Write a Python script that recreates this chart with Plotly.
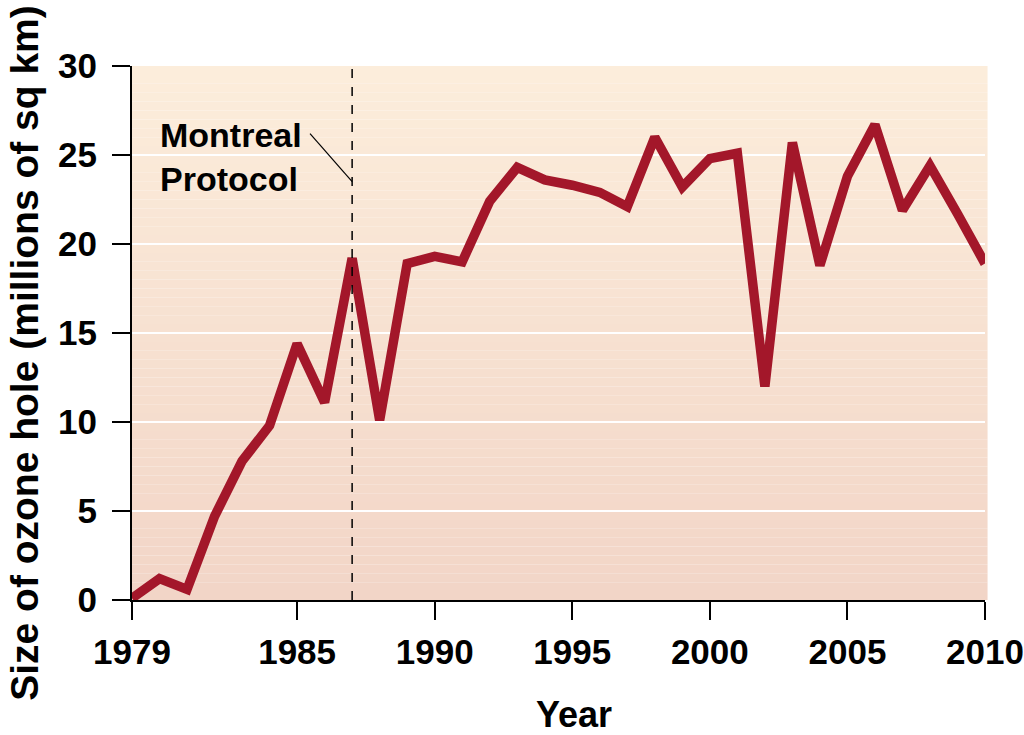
import plotly.graph_objects as go

years = list(range(1979, 2011))
ozone_hole = [0.1, 1.2, 0.6, 4.7, 7.8, 9.8, 14.4, 11.1, 19.2, 10.1,
              18.9, 19.3, 19.0, 22.4, 24.3, 23.6, 23.3, 22.9, 22.1, 26.0,
              23.2, 24.8, 25.1, 12.0, 25.7, 18.8, 23.8, 26.7, 21.9, 24.4,
              21.7, 18.9]
x_ticks = [1979, 1985, 1990, 1995, 2000, 2005, 2010]
y_ticks = [0, 5, 10, 15, 20, 25, 30]
protocol_year = 1987

FONT = "Liberation Sans, Arial, Helvetica, sans-serif"

fig = go.Figure()

# gradient background bands
shapes = []
n = 60
top = (252, 237, 219)
bot = (242, 213, 199)
for i in range(n):
    t = i / (n - 1)
    c = tuple(round(top[k] + (bot[k] - top[k]) * t) for k in range(3))
    shapes.append(dict(type="rect", xref="paper", yref="paper",
                       x0=0, x1=1.003, y0=1 - (i + 1) / n, y1=1 - i / n,
                       fillcolor="rgb(%d,%d,%d)" % c, line=dict(width=0),
                       layer="below"))
shapes.append(dict(type="line", xref="x", yref="y", x0=protocol_year, x1=protocol_year,
                   y0=0, y1=30, line=dict(color="black", width=1.5, dash="dash"),
                   layer="above"))
shapes.append(dict(type="line", xref="x", yref="y", x0=1985.47, x1=protocol_year,
                   y0=26.2, y1=23.5, line=dict(color="black", width=1.2),
                   layer="above"))

fig.add_trace(go.Scatter(x=years, y=ozone_hole, mode="lines",
                         line=dict(color="#A3172A", width=9.5),
                         hoverinfo="x+y", showlegend=False))

fig.update_layout(
    width=1024, height=735,
    margin=dict(l=132, r=39, t=66, b=135),
    paper_bgcolor="white", plot_bgcolor="rgba(0,0,0,0)",
    shapes=shapes,
    xaxis=dict(range=[1979, 2010], tickvals=x_ticks, ticktext=[str(v) for v in x_ticks],
               automargin=False,
               showgrid=False, zeroline=False, showline=True, linecolor="black",
               linewidth=2, ticks="outside", ticklen=18, tickwidth=2, tickcolor="black",
               tickfont=dict(family=FONT, size=35, color="black", weight="bold"),
               ticklabelstandoff=2),
    yaxis=dict(range=[0, 30], tickvals=y_ticks, automargin=False,
               showgrid=True, gridcolor="white", gridwidth=2, zeroline=False,
               showline=True, linecolor="black", linewidth=2, ticks="outside",
               ticklen=18, tickwidth=2, tickcolor="black",
               tickfont=dict(family=FONT, size=35, color="black", weight="bold"),
               ticklabelstandoff=8),
    annotations=[
        dict(text="Montreal<br>Protocol", x=1979.95, y=24.9, xref="x", yref="y",
             showarrow=False, xanchor="left", yanchor="middle", align="left",
             font=dict(family=FONT, size=34, color="black", weight="bold")),
        dict(text="Year", x=0.518, y=-0.2135, xref="paper", yref="paper", showarrow=False,
             xanchor="center", yanchor="middle",
             font=dict(family=FONT, size=36, color="black", weight="bold")),
        dict(text="Size of ozone hole (millions of sq km)", x=-0.1254, y=0.463,
             xref="paper", yref="paper", showarrow=False, textangle=-90,
             xanchor="center", yanchor="middle",
             font=dict(family=FONT, size=39, color="black", weight="bold")),
    ],
)

fig.write_html("out.html")
